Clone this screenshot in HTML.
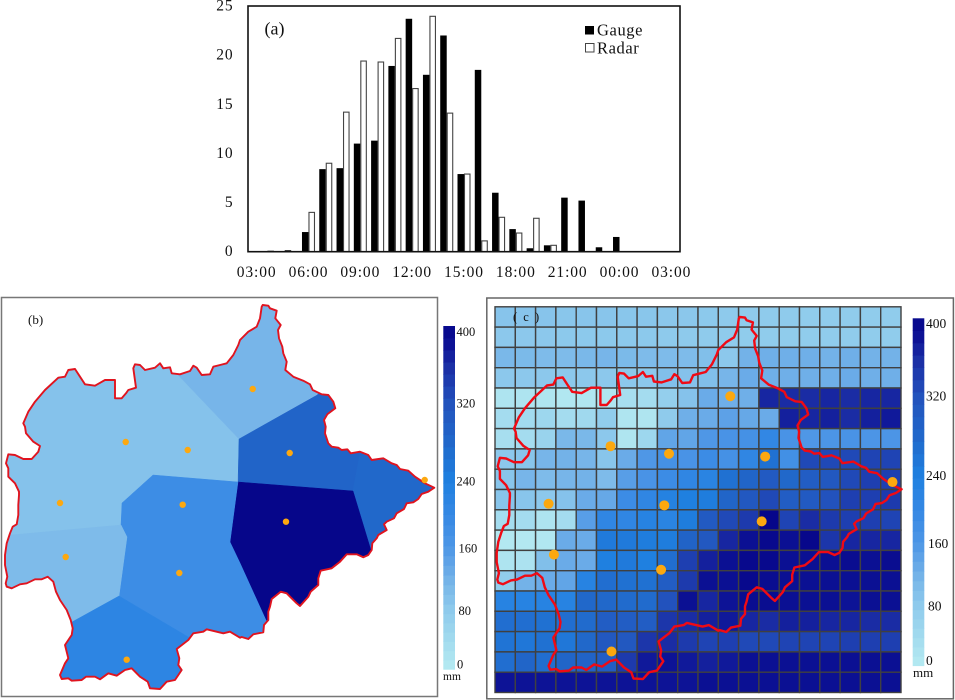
<!DOCTYPE html>
<html lang="en">
<head>
<meta charset="utf-8">
<title>Rainfall: gauge and radar comparison</title>
<style>
html,body{margin:0;padding:0;background:#fff;width:955px;height:700px;overflow:hidden}
svg{display:block;font-family:"Liberation Serif",serif;fill:#111}
</style>
</head>
<body>
<svg id="fig" width="955" height="700" viewBox="0 0 955 700" xmlns="http://www.w3.org/2000/svg">
  <rect x="0" y="0" width="955" height="700" fill="#fff"/>
  <g id="panelA">
    <g id="barsA"></g>
    <g id="ticksA" font-size="15.5" letter-spacing="0.9"></g>
    <rect x="248" y="6" width="432" height="245.7" fill="none" stroke="#111" stroke-width="1.6"/>
    <text x="264.5" y="34.5" font-size="18">(a)</text>
    <g>
      <rect x="585" y="26" width="9" height="8.5" fill="#000"/>
      <text x="597" y="35.5" font-size="16.5" letter-spacing="0.6">Gauge</text>
      <rect x="585.5" y="43.5" width="8.5" height="8.5" fill="#fff" stroke="#444" stroke-width="1"/>
      <text x="597" y="53.5" font-size="16.5" letter-spacing="0.6">Radar</text>
    </g>
  </g>
  <g id="panelB">
    <rect x="1.5" y="297.5" width="436" height="399" fill="#fff" stroke="#777" stroke-width="1.5"/>
    <clipPath id="basinClip"><polygon id="basinClipShape"/></clipPath>
    <g id="regionsB" clip-path="url(#basinClip)"></g>
    <polygon id="outlineB" fill="none" stroke="#e0141f" stroke-width="1.9" stroke-linejoin="round"/>
    <g id="stationsB"></g>
    <text x="28" y="324" font-size="13">(b)</text>
    <g id="barB"></g>
    <g font-size="12.5">
      <text x="456.5" y="336">400</text>
      <text x="456.5" y="407.5">320</text>
      <text x="456.5" y="485.5">240</text>
      <text x="458.5" y="552.5">160</text>
      <text x="458.5" y="615">80</text>
      <text x="457" y="668.5">0</text>
      <text x="443" y="680" font-size="11.5">mm</text>
    </g>
  </g>
  <g id="panelC">
    <rect x="486.8" y="298" width="466.6" height="400.8" fill="#fff" stroke="#666" stroke-width="1.5"/>
    <g id="cellsC"></g>
    <polygon id="outlineC" fill="none" stroke="#f00a14" stroke-width="2.4" stroke-linejoin="round"/>
    <g id="stationsC"></g>
    <text x="513" y="321" font-size="12.5" letter-spacing="1.5">( c )</text>
    <g id="barC"></g>
    <g font-size="13.5">
      <text x="926" y="328">400</text>
      <text x="926" y="400.5">320</text>
      <text x="926" y="480">240</text>
      <text x="928" y="548">160</text>
      <text x="928" y="610.5">80</text>
      <text x="926" y="665">0</text>
      <text x="913" y="677" font-size="13">mm</text>
    </g>
  </g>
</svg>
<script>
/* ---------- chart data ---------- */
const hourLabels = ["03:00","04:00","05:00","06:00","07:00","08:00","09:00","10:00","11:00","12:00","13:00","14:00","15:00","16:00","17:00","18:00","19:00","20:00","21:00","22:00","23:00","00:00","01:00","02:00","03:00"];
const gaugeValues = [0,0.1,0.15,2.0,8.4,8.5,11.0,11.3,18.9,23.7,18.0,22.0,7.9,18.5,6.0,2.3,0.35,0.65,5.5,5.2,0.45,1.5,0,0,0];
const radarValues = [0,0,0,4.0,9.0,14.2,19.4,19.3,21.7,16.6,23.95,14.1,7.9,1.1,3.5,1.9,3.4,0.65,0,0,0,0,0,0,0];
const yTickValues = [0,5,10,15,20,25];
const xTickLabels = ["03:00","06:00","09:00","12:00","15:00","18:00","21:00","00:00","03:00"];

/* Thiessen-region rainfall (mm), one value per region */
const regionNames = ["north-west","north","north-east","east","centre-east","centre","south-west","south"];
const regionValues = [95,115,287,280,400,188,105,214];

/* Radar rainfall grid (mm), 19 rows by 20 columns */
const radarGrid = [
[92,92,92,88,90,90,88,88,86,86,84,82,80,80,80,78,78,78,78,78],
[85,85,85,84,84,84,84,84,82,82,80,80,78,78,78,78,78,78,78,78],
[110,108,105,105,110,115,108,105,105,105,100,85,120,125,125,125,120,125,120,120],
[85,85,85,85,85,85,85,85,100,95,100,115,130,125,125,125,125,130,125,125],
[15,15,12,8,10,10,30,35,70,95,130,125,125,365,360,360,365,360,365,365],
[35,40,50,35,45,75,12,12,80,125,130,145,135,130,370,365,370,360,370,375],
[30,35,60,110,110,85,12,50,140,140,160,170,175,205,170,160,165,170,165,165],
[85,90,115,120,115,90,130,160,175,170,190,175,210,265,180,330,330,330,335,335],
[90,115,105,115,120,105,150,170,190,210,220,265,285,305,280,300,310,330,340,340],
[90,90,85,95,130,135,190,210,230,240,245,285,310,330,300,305,320,340,340,345],
[35,35,15,35,150,210,210,225,220,245,305,330,345,400,335,360,345,340,340,335],
[5,5,8,130,130,250,250,245,245,290,310,365,385,395,385,398,350,365,365,365],
[15,20,100,130,130,240,250,240,270,340,370,385,395,395,385,385,385,390,385,390],
[75,120,130,140,225,270,265,265,300,345,385,385,395,390,385,385,385,385,385,385],
[225,225,225,225,280,280,275,275,320,385,365,380,390,390,385,385,385,380,385,385],
[270,270,265,270,275,300,300,300,350,360,370,375,365,360,370,370,365,365,360,360],
[260,255,265,255,280,310,310,350,360,345,335,340,330,330,335,335,335,340,340,340],
[270,285,270,285,290,300,345,375,380,375,370,375,385,385,385,385,385,385,385,385],
[380,380,380,380,380,380,380,380,380,380,385,385,385,385,385,385,385,385,385,385]
];

/* Colour scale: rainfall (mm) to fill */
const rampValues = [0,80,120,160,200,240,280,320,360,380,400];
const rampColours = ["#b5eaf1","#8fcbec","#73b2e8","#4f97e6","#3588e4","#1f80e0","#2168ca","#2252bd","#1a2ca4","#0d1396","#06068a"];
const colourbarTicks = [0,80,160,240,320,400];
const bandCount = 32;

/* Map geometry: traced boundary, station sites and region outlines, in panel (b) coordinates */
const boundaryTraces = [
 [240,295,[68,30,85,32,90,40,110,47,106,70,122,90,114,105,117,130,127,155,130,175,140,200,136,225,160,245,190,257,210,268,218,285,245,298,265,300,280,320,286,340,262,358,252,375,257,395,255,415,265,445,275,455,295,458,305,465,322,463,332,475,360,470,385,480,395,495,430,490,455,505,470,510,480,522,505,527,525,545,555,565,583,578,565,590,545,597]],
 [240,495,[535,12,520,22,500,25,492,42,470,55,462,70,440,80,432,88,440,105,415,120,410,130,397,145,395,165,385,180,370,187,350,178,320,178,300,200,275,220,242,227,235,250,235,270,212,290,205,305,180,333,170,325,150,305,140,295,122,290,95,312,90,335,85,350,85,375,72,390,70,412,40,418,25,432,5,426]],
 [0,495,[720,428,690,410,670,415,620,403,610,410,580,415,565,435,530,462,538,490,535,510,545,525,525,555,500,560,480,582,450,580,443,560,420,545,395,520,375,525,350,542,325,535,300,553,285,545,258,545,245,555,215,557,205,550,185,552,180,540,195,505,205,490,195,450,215,420,218,400,212,375,200,345,180,315,168,290,160,260,143,245,125,253,105,253,80,265,60,268,35,280,20,275,17,265,22,245,15,210,15,180,20,145,30,115,38,95,50,88,55,60,55,30,57,0]],
 [0,295,[57,590,45,565,25,545,25,520,18,505,25,478,45,480,70,492,95,492,115,470,120,453,100,440,78,415,75,395,70,385,85,350,105,320,135,285,175,248,195,245,205,225,225,222,240,245,255,268,285,272,315,255,345,255,345,310,365,310,378,295,385,285,408,278,400,220,405,208,420,210,435,225,465,218,480,205,490,220,510,217,515,235,540,238,570,228,580,212,590,218,605,240,630,238,640,215,660,210,680,205,700,180,715,150,720,135]],
 [240,295,[25,110,50,95,60,70,65,35]]
];
const stationSites = [[125.7,442],[187.7,450],[252.7,389],[289.7,453],[424.7,480],[286,521.7],[182.7,504.7],[60,503],[65.7,557],[179.3,573],[126.7,659.7]];
const regionOutlines = [
 [0,300,100,293,239,439,237.5,482,153,475,122,503,121,525,0,536],
 [100,293,400,293,400,347,239,439],
 [239,439,317,395,380,347,353,491,238,482],
 [380,347,450,347,450,600,386,600,353,491],
 [238,482,353,491,386,600,300,660,275,640,240,563,230,542],
 [153,475,238,482,230,542,240,563,275,640,250,670,190,638,119,596,127,537,121,525,122,503],
 [0,536,121,525,127,537,119,596,72,622,0,660],
 [72,622,119,596,190,638,250,670,200,700,0,700,0,660]
];

/* ---------- scales ---------- */
const SVGNS = "http://www.w3.org/2000/svg";
function mk(parent, tag, attrs){
  const el = document.createElementNS(SVGNS, tag);
  for (const k in attrs) el.setAttribute(k, attrs[k]);
  parent.appendChild(el);
  return el;
}
const plotA = {left:248, top:6, bottom:251.7, width:432, yMax:25, barW:6.5};
function yA(v){ return plotA.bottom - (v / plotA.yMax) * (plotA.bottom - plotA.top); }
function xA(i){ return plotA.left + (i + 0.5) * plotA.width / hourLabels.length; }
function hexToRgb(h){ return [1,3,5].map(function(i){ return parseInt(h.substr(i,2),16); }); }
function colourFor(v){
  const c = Math.max(rampValues[0], Math.min(rampValues[rampValues.length-1], v));
  let i = 0;
  while (i < rampValues.length-2 && c > rampValues[i+1]) i++;
  const t = (c - rampValues[i]) / (rampValues[i+1] - rampValues[i]);
  const a = hexToRgb(rampColours[i]), b = hexToRgb(rampColours[i+1]);
  return "rgb(" + a.map(function(x,j){ return Math.round(x + (b[j]-x)*t); }).join(",") + ")";
}
function interp(v, dom, rng){
  let i = 0;
  while (i < dom.length-2 && v > dom[i+1]) i++;
  return rng[i] + (v-dom[i])/(dom[i+1]-dom[i])*(rng[i+1]-rng[i]);
}
function toC(p){ return [492 + 0.943*p[0], 29.4 + 0.943*p[1]]; }

/* ---------- panel (a) ---------- */
const barsA = document.getElementById("barsA");
hourLabels.forEach(function(label, i){
  const cx = xA(i);
  if (gaugeValues[i] > 0) {
    const g = mk(barsA, "rect", {x:cx-plotA.barW, y:yA(gaugeValues[i]), width:plotA.barW, height:plotA.bottom-yA(gaugeValues[i]), fill:"#000"});
    
    
  }
  if (radarValues[i] > 0) {
    const r = mk(barsA, "rect", {x:cx+0.5, y:yA(radarValues[i]), width:plotA.barW-1, height:plotA.bottom-yA(radarValues[i]), fill:"#fff", stroke:"#444", "stroke-width":1.1});
    
    
  }
});
const ticksA = document.getElementById("ticksA");
yTickValues.forEach(function(v){
  const t = mk(ticksA, "text", {x:233.5, y:yA(v)+4.5, "text-anchor":"end"});
  t.textContent = String(v);
  
  
});
xTickLabels.forEach(function(s, i){
  const t = mk(ticksA, "text", {x:xA(i*3), y:277, "text-anchor":"middle"});
  t.textContent = s;
  
  
});

/* ---------- boundary ---------- */
const boundary = [];
boundaryTraces.forEach(function(tr){
  for (let i = 0; i < tr[2].length; i += 2) boundary.push([tr[0] + tr[2][i]/3, tr[1] + tr[2][i+1]/3]);
});
function ptsStr(a){ return a.map(function(p){ return p[0].toFixed(1)+","+p[1].toFixed(1); }).join(" "); }
document.getElementById("basinClipShape").setAttribute("points", ptsStr(boundary));
document.getElementById("outlineB").setAttribute("points", ptsStr(boundary));
document.getElementById("outlineC").setAttribute("points", ptsStr(boundary.map(toC)));

/* ---------- panel (b) ---------- */
const regionsB = document.getElementById("regionsB");
regionOutlines.forEach(function(o, i){
  const pts = [];
  for (let k = 0; k < o.length; k += 2) pts.push([o[k], o[k+1]]);
  const c = colourFor(regionValues[i]);
  const poly = mk(regionsB, "polygon", {points:ptsStr(pts), fill:c, stroke:c, "stroke-width":0.5});
  
  
});
const stationsB = document.getElementById("stationsB");
stationSites.forEach(function(p){
  const s = mk(stationsB, "circle", {cx:p[0], cy:p[1], r:3.2, fill:"#fda80f"});
  
  
});

/* ---------- panel (c) ---------- */
const cellsC = document.getElementById("cellsC");
const gridC = {left:495, top:306.8, cell:20.3};
radarGrid.forEach(function(row, r){
  row.forEach(function(v, c){
    const cell = mk(cellsC, "rect", {x:gridC.left+c*gridC.cell, y:gridC.top+r*gridC.cell, width:gridC.cell, height:gridC.cell, fill:colourFor(v), stroke:"#404040", "stroke-width":1.4});
    
    
  });
});
const stationsC = document.getElementById("stationsC");
stationSites.forEach(function(p){
  const q = toC(p);
  const s = mk(stationsC, "circle", {cx:q[0], cy:q[1], r:5, fill:"#fca80f"});
  
  
});

/* ---------- colour bars ---------- */
function colourbar(id, x, w, rangeY){
  const g = document.getElementById(id);
  for (let i = 0; i < bandCount; i++) {
    const v0 = i * 400 / bandCount, v1 = (i+1) * 400 / bandCount;
    const y0 = interp(v0, colourbarTicks, rangeY), y1 = interp(v1, colourbarTicks, rangeY);
    const b = mk(g, "rect", {x:x, y:y1, width:w, height:y0-y1+0.4, fill:colourFor((v0+v1)/2)});
    
    
  }
}
colourbar("barB", 443.3, 11.7, [669.3,610,548,481,403,326]);
colourbar("barC", 912.7, 11.6, [665.7,606,544,476,397,318.3]);
</script>
</body>
</html>
